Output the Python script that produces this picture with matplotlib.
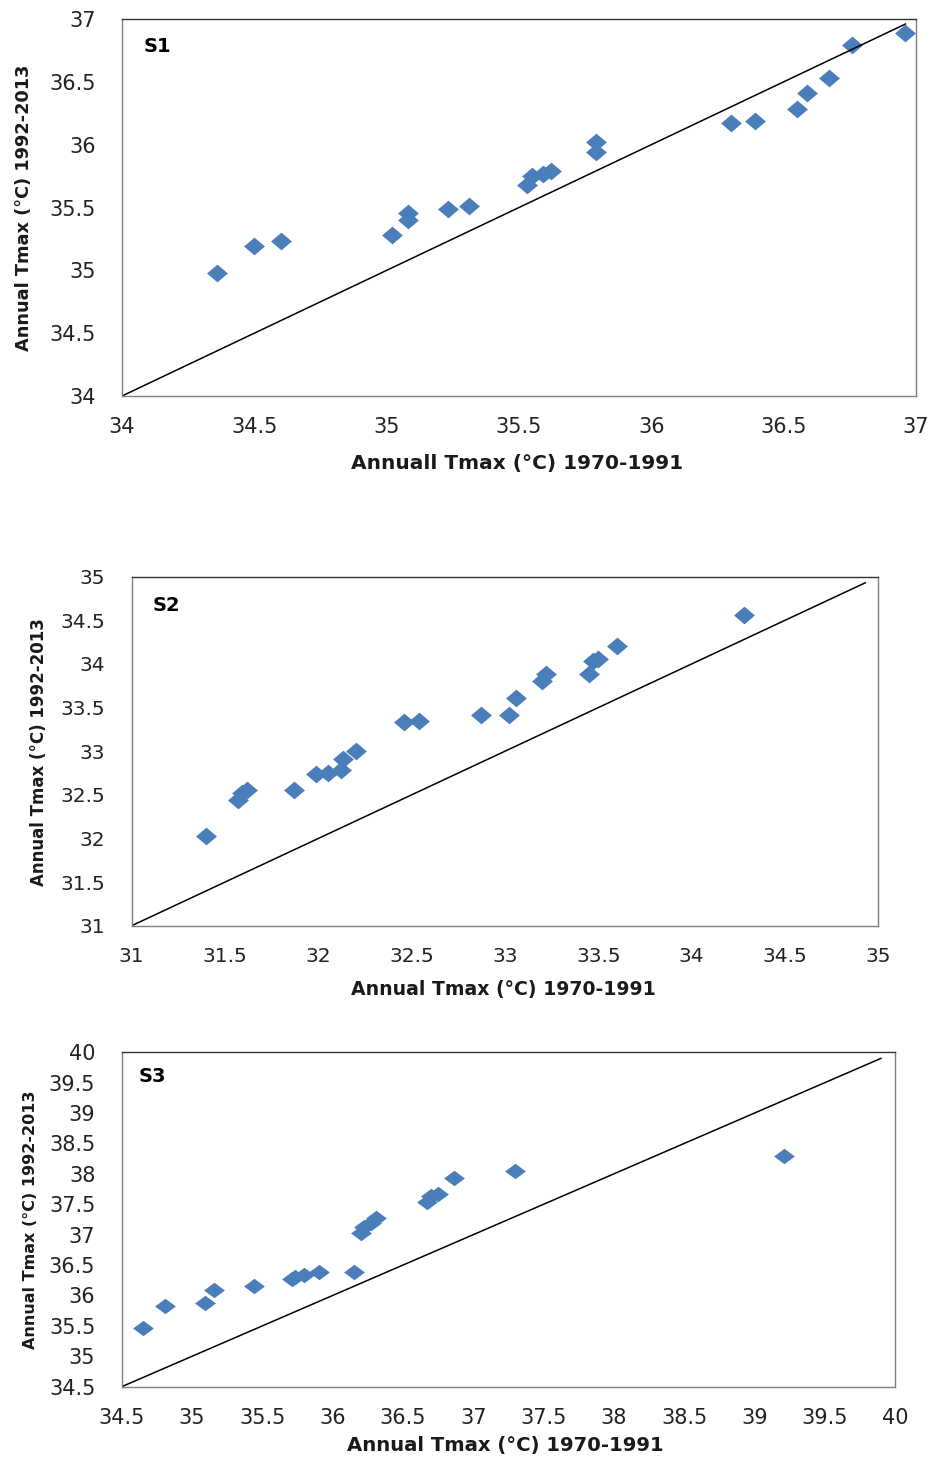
import matplotlib
matplotlib.use('Agg')
import matplotlib.pyplot as plt
import numpy as np

# S1 station: annual Tmax, 1970-1991 (x) vs 1992-2013 (y)
s1_x = [34.36, 34.50, 34.60, 35.02, 35.08, 35.08, 35.23, 35.31, 35.53, 35.55,
        35.59, 35.62, 35.79, 35.79, 36.30, 36.39, 36.55, 36.59, 36.67, 36.76, 36.96]
s1_y = [34.98, 35.19, 35.23, 35.28, 35.46, 35.40, 35.49, 35.51, 35.68, 35.75,
        35.77, 35.79, 35.94, 36.02, 36.17, 36.19, 36.28, 36.41, 36.53, 36.79, 36.89]

# S2 station
s2_x = [31.40, 31.57, 31.59, 31.62, 31.87, 31.99, 32.05, 32.12, 32.13, 32.20,
        32.46, 32.54, 32.87, 33.02, 33.06, 33.20, 33.22, 33.45, 33.47, 33.50,
        33.60, 34.28]
s2_y = [32.03, 32.44, 32.52, 32.56, 32.56, 32.74, 32.75, 32.79, 32.91, 33.00,
        33.33, 33.35, 33.42, 33.42, 33.61, 33.80, 33.88, 33.88, 34.03, 34.06,
        34.20, 34.56]

# S3 station
s3_x = [34.65, 34.81, 35.09, 35.16, 35.44, 35.71, 35.73, 35.80, 35.90, 36.15,
        36.20, 36.22, 36.27, 36.31, 36.67, 36.70, 36.75, 36.86, 37.30, 39.21]
s3_y = [35.46, 35.83, 35.87, 36.09, 36.15, 36.27, 36.30, 36.34, 36.38, 36.38,
        37.03, 37.13, 37.20, 37.27, 37.54, 37.63, 37.67, 37.93, 38.05, 38.29]

# axis ranges and 1:1 reference line ends
s1_lim = (34, 37)
s2_lim = (31, 35)
s3_lim = (34.5, 40)
s1_line = [34, 36.96]
s2_line = [31, 34.93]
s3_line = [34.5, 39.9]

W, H = 936, 1461
fig = plt.figure(figsize=(W / 100, H / 100), dpi=100)

blue = '#4a7ebb'


def px(x, y):
    return x / W, 1 - y / H


def panel(box, xs, ys, lim, line, step, name, name_pos, xlab, xlab_pos, ylab, ylab_pos,
          tick_fs, xlab_fs, ylab_fs, flat):
    l, t, r, b = box
    ax = fig.add_axes([l / W, 1 - b / H, (r - l) / W, (b - t) / H])
    diamond = [(-1, 0), (0, flat), (1, 0), (0, -flat), (-1, 0)]
    ax.plot(xs, ys, linestyle='none', marker=diamond, markersize=15, color=blue,
            markeredgewidth=0)
    ax.plot(line, line, color='black', linewidth=1.1)
    ax.set_xlim(lim)
    ax.set_ylim(lim)
    ticks = np.arange(lim[0], lim[1] + 0.01, step)
    labels = ['%g' % v for v in ticks]
    ax.set_xticks(ticks)
    ax.set_xticklabels(labels)
    ax.set_yticks(ticks)
    ax.set_yticklabels(labels)
    ax.tick_params(axis='x', length=0, pad=15, labelsize=tick_fs, labelcolor='#222222')
    ax.tick_params(axis='y', length=0, pad=19, labelsize=tick_fs, labelcolor='#222222')
    for s in ['left', 'bottom', 'right']:
        ax.spines[s].set_color('#7f7f7f')
        ax.spines[s].set_linewidth(1.0)
    ax.spines['top'].set_color('#333333')
    ax.spines['top'].set_linewidth(1.0)
    fx, fy = px(*name_pos)
    fig.text(fx, fy, name, ha='center', va='center', fontsize=14, fontweight='bold')
    fx, fy = px(*xlab_pos)
    fig.text(fx, fy, xlab, ha='center', va='center', fontsize=xlab_fs, fontweight='bold',
             color='#1a1a1a')
    fx, fy = px(*ylab_pos)
    fig.text(fx, fy, ylab, ha='center', va='center', rotation=90, fontsize=ylab_fs,
             fontweight='bold', color='#1a1a1a')
    return ax


ylab = 'Annual Tmax (\u00b0C) 1992-2013'

panel((122, 19, 916, 396), s1_x, s1_y, s1_lim, s1_line, 0.5, 'S1', (157, 47),
      'Annuall Tmax (\u00b0C) 1970-1991', (517, 463), ylab, (24, 208),
      15, 14.5, 12.8, 0.85)
panel((131.7, 576.7, 878.3, 925.7), s2_x, s2_y, s2_lim, s2_line, 0.5, 'S2', (166, 605),
      'Annual Tmax (\u00b0C) 1970-1991', (503, 989), ylab, (39, 752),
      14.5, 13.6, 12.0, 0.85)
panel((121.7, 1052.3, 895, 1386.7), s3_x, s3_y, s3_lim, s3_line, 0.5, 'S3', (152, 1077),
      'Annual Tmax (\u00b0C) 1970-1991', (505, 1445), ylab, (31, 1220),
      15, 14.1, 11.5, 0.74)

fig.savefig('out.png', dpi=100)
